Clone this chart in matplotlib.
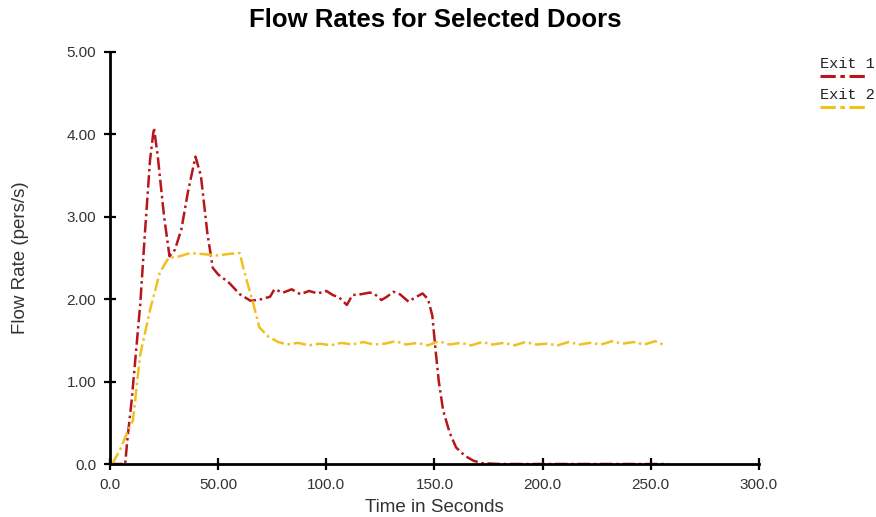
#!/usr/bin/env python3
"""Flow rates for selected doors (Exit 1 / Exit 2)."""

import matplotlib
matplotlib.use("Agg")
import matplotlib.pyplot as plt
from matplotlib.lines import Line2D

EXIT1_COLOR = "#B8161C"
EXIT2_COLOR = "#F0C01E"
DASH = (0, (5.0, 1.5, 1.0, 1.5))

exit1_time = [0, 7, 8, 10, 14, 16, 18.5, 20.3, 22, 25, 27.5, 30, 33, 36, 39.5,
              42, 45, 47.5, 50, 55, 60, 65, 70, 74, 76, 80, 84, 88, 92, 96,
              100, 103, 106, 109.5, 112, 116, 120, 122, 125.5, 128, 131, 134,
              138, 141, 144.5, 147, 149, 150.5, 152, 154, 157, 160, 164, 168,
              172, 180, 200, 220, 240, 258]
exit1_rate = [0, 0, 0.29, 0.77, 1.95, 2.75, 3.69, 4.08, 3.75, 3.0, 2.52, 2.6,
              2.85, 3.3, 3.73, 3.5, 2.8, 2.38, 2.3, 2.2, 2.06, 1.98, 2.0, 2.03,
              2.12, 2.08, 2.12, 2.06, 2.1, 2.07, 2.1, 2.05, 2.02, 1.93, 2.05,
              2.06, 2.08, 2.07, 1.99, 2.03, 2.09, 2.06, 1.97, 2.02, 2.07, 2.0,
              1.8, 1.38, 1.0, 0.65, 0.38, 0.2, 0.1, 0.04, 0.01, 0.0, 0.0, 0.0,
              0.0, 0.0]

exit2_time = [1, 4.6, 8.4, 10.6, 13.9, 18.5, 23, 27, 32, 37, 42, 46, 50, 55,
              60, 61.5, 64, 66, 69, 73, 77.7, 82, 87, 92, 97, 102, 107, 112,
              117, 122, 127, 132, 137, 142, 147, 152, 157, 162, 167, 172, 177,
              182, 187, 192, 197, 202, 207, 212, 217, 222, 227, 232, 237, 242,
              247, 252, 256.6]
exit2_rate = [0, 0.17, 0.41, 0.53, 1.32, 1.87, 2.32, 2.5, 2.52, 2.56, 2.55,
              2.54, 2.53, 2.55, 2.56, 2.39, 2.15, 1.97, 1.66, 1.55, 1.48, 1.45,
              1.47, 1.44, 1.46, 1.44, 1.47, 1.45, 1.48, 1.45, 1.46, 1.49, 1.45,
              1.47, 1.44, 1.49, 1.45, 1.47, 1.44, 1.48, 1.45, 1.47, 1.44, 1.48,
              1.45, 1.46, 1.44, 1.48, 1.45, 1.47, 1.45, 1.49, 1.46, 1.48, 1.45,
              1.49, 1.44]

x_ticks = [0, 50, 100, 150, 200, 250, 300]
x_tick_labels = ["0.0", "50.00", "100.0", "150.0", "200.0", "250.0", "300.0"]
y_ticks = [0, 1, 2, 3, 4, 5]
y_tick_labels = ["0.0", "1.00", "2.00", "3.00", "4.00", "5.00"]


def main():
    plt.rcParams["font.family"] = ["Liberation Sans", "DejaVu Sans"]
    fig = plt.figure(figsize=(8.76, 5.17), dpi=100)
    ax = fig.add_axes([0.1256, 0.1025, 0.7408, 0.797])

    ax.plot(exit1_time, exit1_rate, color=EXIT1_COLOR, lw=1.8, linestyle=DASH)
    ax.plot(exit2_time, exit2_rate, color=EXIT2_COLOR, lw=1.8, linestyle=DASH)

    ax.set_xlim(0, 300)
    ax.set_ylim(0, 5)
    ax.set_xticks(x_ticks)
    ax.set_xticklabels(x_tick_labels)
    ax.set_yticks(y_ticks)
    ax.set_yticklabels(y_tick_labels)
    ax.tick_params(direction="inout", length=8, width=1.6, labelsize=11,
                   labelcolor="#333333")
    ax.tick_params(axis="x", pad=6)
    ax.tick_params(axis="y", pad=6)
    for side in ("top", "right"):
        ax.spines[side].set_visible(False)
    for side in ("left", "bottom"):
        ax.spines[side].set_linewidth(2.0)

    ax.set_xlabel("Time in Seconds", fontsize=13.5, color="#333333", labelpad=5)
    ax.set_ylabel("Flow Rate (pers/s)", fontsize=13.5, color="#333333", labelpad=27)
    fig.text(0.497, 0.961, "Flow Rates for Selected Doors", ha="center",
             va="center", fontsize=18.5, fontweight="bold")

    # legend drawn at the top right, outside the axes
    for i, (name, color) in enumerate([("Exit 1", EXIT1_COLOR),
                                       ("Exit 2", EXIT2_COLOR)]):
        y_text = 1 - (64 + i * 31) / 517
        y_line = 1 - (76 + i * 31) / 517
        fig.text(820 / 876, y_text, name, family="Liberation Mono",
                 fontsize=11, ha="left", va="center", color="#222222")
        fig.add_artist(Line2D([820 / 876, 866 / 876], [y_line, y_line],
                              color=color, lw=2.2, linestyle=(0, (5.0, 1.5, 1.5, 1.5))))

    fig.savefig("out.png", dpi=100)
    plt.close(fig)


if __name__ == "__main__":
    main()
